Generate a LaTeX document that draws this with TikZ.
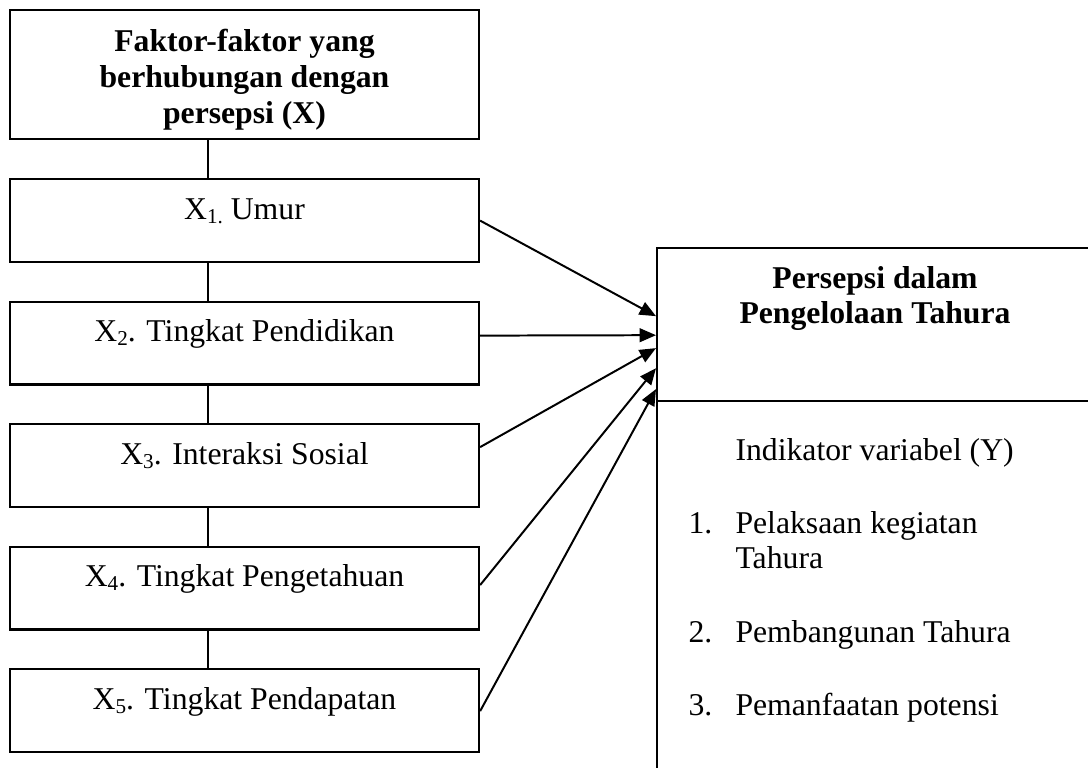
\documentclass[tikz,border=0pt]{standalone}
\usepackage{fontspec}
\setmainfont{Liberation Serif}
\usetikzlibrary{arrows.meta}

\def\bw{177.5pt}
\def\rw{165.8pt}
\def\sub#1{\raisebox{-0.3ex}{\fontsize{8}{8}\selectfont #1}}
\def\faktor#1#2#3{\node[kotak, anchor=north] (#1) at (244.5, #2) {#3};}
\def\butir#1#2#3{\node[teks] (no#1) at (688, #2) {#1.}; \node[teks] (butir#1) at (735, #2) {#3};}

\tikzset{
  kotak/.style={draw, line width=0.85pt, minimum width=\bw, text height=15.1pt, text depth=16.3pt},
  bingkai/.style={draw, line width=0.85pt, anchor=north west},
  judul/.style={font=\fontsize{12}{13.6}\selectfont\bfseries, align=center},
  teks/.style={anchor=base west},
  garis/.style={line width=0.5pt},
  panah/.style={line width=0.75pt, -{Triangle[length=6.2pt,width=5.2pt]}},
}

\begin{document}
\begin{tikzpicture}[x=0.3785pt, y=-0.3785pt,
    nodes={inner sep=0pt, font=\fontsize{12}{13.6}\selectfont}]
    \useasboundingbox (0,0) rectangle (1088,767);
    \clip (0,0) rectangle (1088,767);
    \coordinate (spine) at (208,0);

    % faktor X
    \node[bingkai, anchor=north, minimum width=\bw, minimum height=48.8pt] (faktor) at (244.5,9) {};
    \node[judul] (judulX) at (244.5,80) {Faktor-faktor yang\\berhubungan dengan\\persepsi (X)};
    \faktor{x1}{178}{X\sub{1.} Umur}
    \faktor{x2}{300.5}{X\sub{2}. Tingkat Pendidikan}
    \faktor{x3}{423}{X\sub{3}. Interaksi Sosial}
    \faktor{x4}{545.5}{X\sub{4}. Tingkat Pengetahuan}
    \faktor{x5}{668}{X\sub{5}. Tingkat Pendapatan}

    % variabel Y
    \node[bingkai, minimum width=\rw, minimum height=57.9pt] (persepsi) at (656,247) {};
    \node[judul] (judulY) at (875,298.5) {Persepsi dalam\\Pengelolaan Tahura};
    \node[bingkai, minimum width=\rw, minimum height=151.4pt] (indikator) at (656,400) {};
    \node[teks] (ind) at (735,460) {Indikator variabel (Y)};
    \butir{1}{533}{Pelaksaan kegiatan}
    \node[teks] (butir1b) at (735,568) {Tahura};
    \butir{2}{642}{Pembangunan Tahura}
    \butir{3}{715}{Pemanfaatan potensi}

    \foreach \a/\b in {faktor/x1, x1/x2, x2/x3, x3/x4, x4/x5}
        \draw[garis] (\a.south -| spine) -- (\b.north -| spine);
    \foreach \i/\s/\e in {1/0/3.2, 2/2.84/-4.0, 3/7.0/-8.9, 4/1.14/-16.5, 5/-0.2/-24.4}
        \draw[panah] ([yshift=\s pt]x\i.east) -- ([yshift=\e pt]persepsi.west);
\end{tikzpicture}
\end{document}
